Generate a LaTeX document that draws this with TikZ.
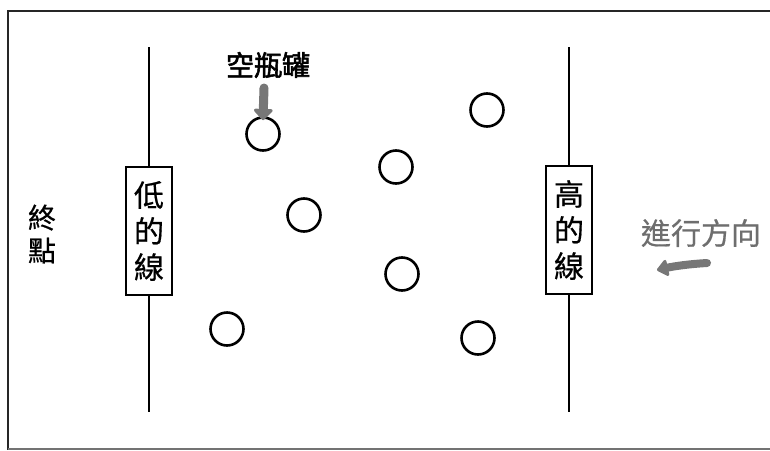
\documentclass[tikz,border=0pt]{standalone}
\usepackage{fontspec}
\setmainfont{Noto Sans CJK TC}[FakeBold=0.6]
\newfontfamily\cjkbold{Noto Sans CJK TC}[FakeBold=2]
\usetikzlibrary{arrows.meta}
\definecolor{arrowgray}{HTML}{777777}
\definecolor{textgray}{HTML}{6E6E6E}
\tikzset{
  can/.style={circle, draw=black, line width=2.6pt, minimum size=33pt, inner sep=0pt},
  linebox/.style={draw=black, line width=2pt, fill=white, minimum width=46pt, minimum height=128pt, inner sep=0pt, font=\fontsize{30}{36}\selectfont, align=center},
  gline/.style={line width=2pt, black},
  grayarrow/.style={arrowgray, line width=9pt, line cap=round, -{Triangle[width=22pt,length=12pt,round]}},
}
\begin{document}
\begin{tikzpicture}[x=1pt,y=-1pt]
\useasboundingbox (0,0) rectangle (770,450);
% frame
\draw[line width=2.5pt, black!85] (770,11) -- (8,11) -- (8,450);
\draw[line width=1.5pt, black!55] (8,449) -- (770,449);
% lines and boxes
\node[linebox] (lowbox) at (149,231) {低\\的\\線};
\node[linebox] (highbox) at (569,230) {高\\的\\線};
\coordinate (lowtop) at (149,47);
\coordinate (lowbot) at (149,412);
\coordinate (hightop) at (569,47);
\coordinate (highbot) at (569,412);
\draw[gline] (lowtop) -- (lowbox.north);
\draw[gline] (lowbox.south) -- (lowbot);
\draw[gline] (hightop) -- (highbox.north);
\draw[gline] (highbox.south) -- (highbot);
% cans
\node[can] (c1) at (263,134) {};
\node[can] (c2) at (304,215) {};
\node[can] (c3) at (396,167) {};
\node[can] (c4) at (487,110) {};
\node[can] (c5) at (402,274) {};
\node[can] (c6) at (227,329) {};
\node[can] (c7) at (478,338) {};
% labels
\node[font=\fontsize{28}{33}\selectfont, align=center] (goal) at (42,234) {終\\點};
\node[font=\cjkbold\fontsize{28}{32}\selectfont] (can) at (268,65) {空瓶罐};
\coordinate (canarrowstart) at (264,88);
\draw[grayarrow] (canarrowstart) -- ([yshift=-4pt]c1.north);
\node[font=\fontsize{30}{34}\selectfont, text=textgray] (dir) at (701,233) {進行方向};
\coordinate (dirstart) at (707,263);
\coordinate (dirend) at (657,270);
\draw[grayarrow, line width=8pt, -{Triangle[width=19pt,length=12pt,round]}] (dirstart) .. controls (690,264) and (675,266) .. (dirend);
\end{tikzpicture}
\end{document}
